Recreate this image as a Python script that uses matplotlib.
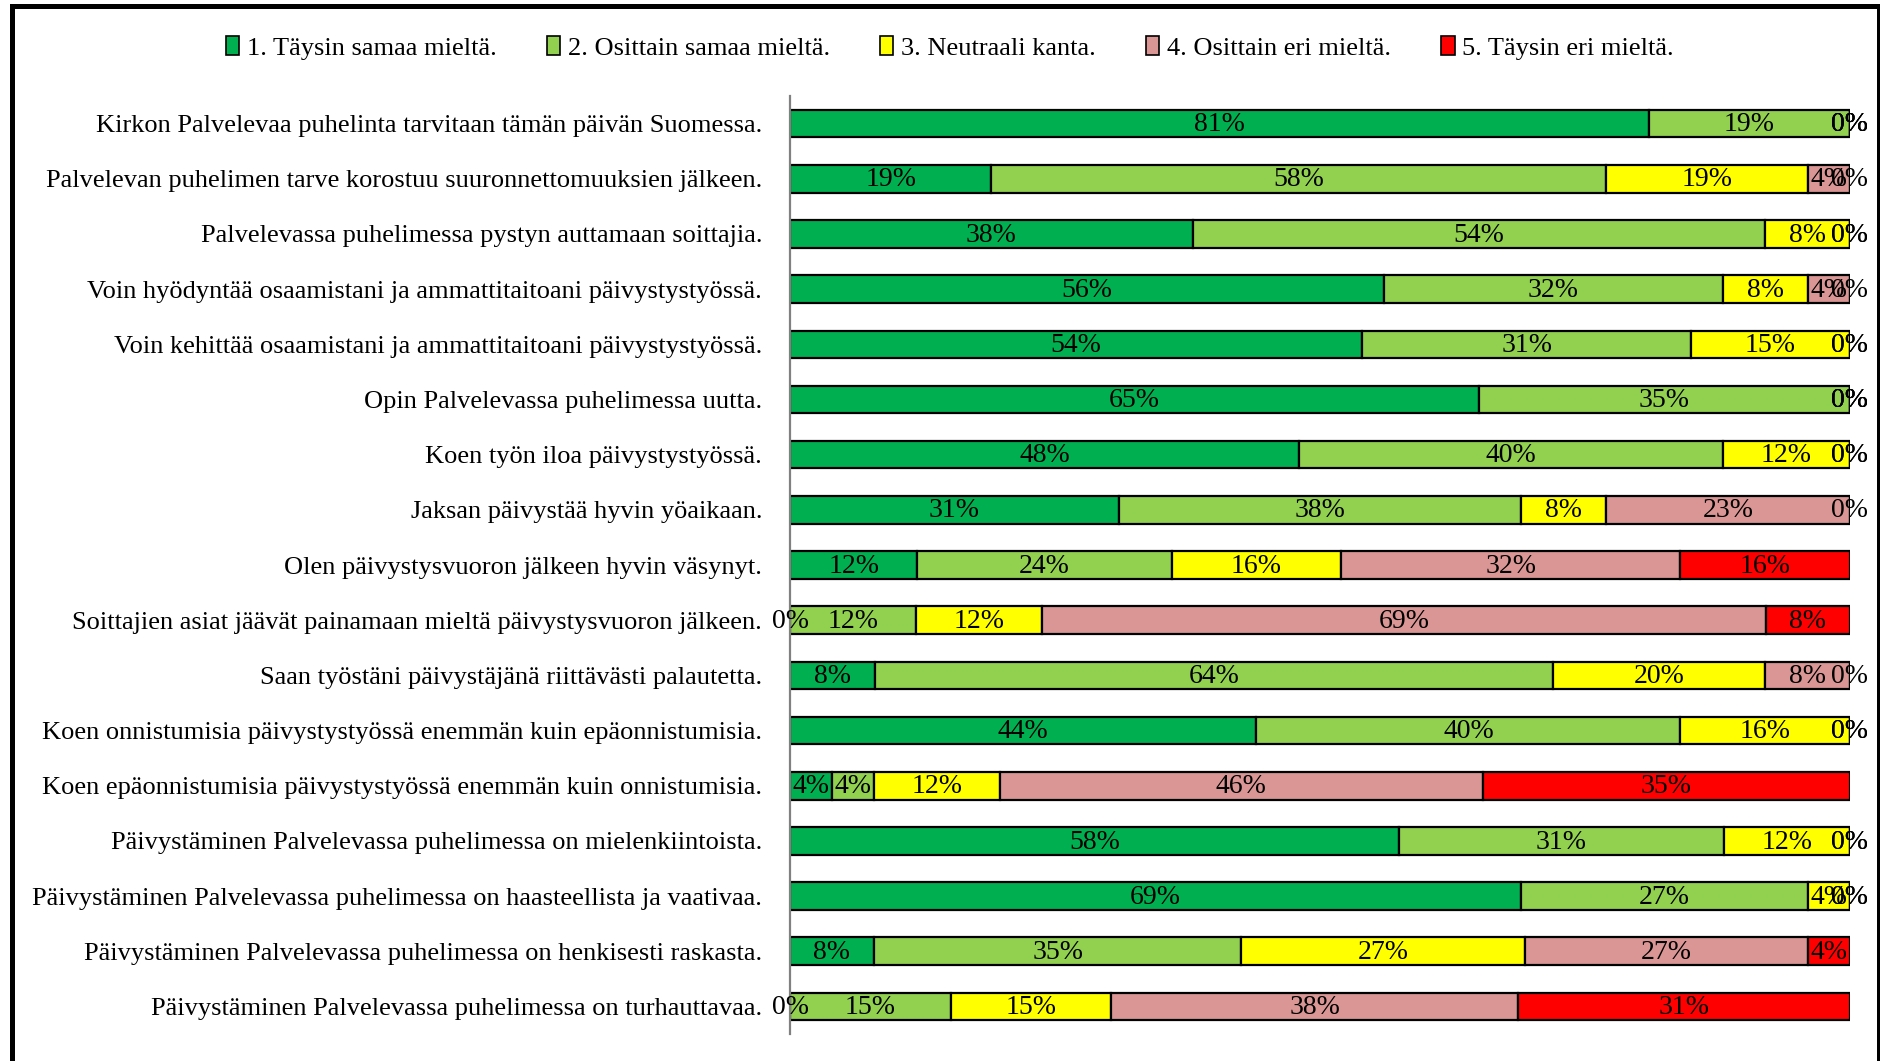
import matplotlib
matplotlib.use("Agg")
import matplotlib.pyplot as plt
from matplotlib.lines import Line2D
from matplotlib.patches import Patch
import numpy as np

categories = [
    "Kirkon Palvelevaa puhelinta tarvitaan tämän päivän Suomessa.",
    "Palvelevan puhelimen tarve korostuu suuronnettomuuksien jälkeen.",
    "Palvelevassa puhelimessa pystyn auttamaan soittajia.",
    "Voin hyödyntää osaamistani ja ammattitaitoani päivystystyössä.",
    "Voin kehittää osaamistani ja ammattitaitoani päivystystyössä.",
    "Opin Palvelevassa puhelimessa uutta.",
    "Koen työn iloa päivystystyössä.",
    "Jaksan päivystää hyvin yöaikaan.",
    "Olen päivystysvuoron jälkeen hyvin väsynyt.",
    "Soittajien asiat jäävät painamaan mieltä päivystysvuoron jälkeen.",
    "Saan työstäni päivystäjänä riittävästi palautetta.",
    "Koen onnistumisia päivystystyössä enemmän kuin epäonnistumisia.",
    "Koen epäonnistumisia päivystystyössä enemmän kuin onnistumisia.",
    "Päivystäminen Palvelevassa puhelimessa on mielenkiintoista.",
    "Päivystäminen Palvelevassa puhelimessa on haasteellista ja vaativaa.",
    "Päivystäminen Palvelevassa puhelimessa on henkisesti raskasta.",
    "Päivystäminen Palvelevassa puhelimessa on turhauttavaa.",
]

series_names = [
    "1. Täysin samaa mieltä.",
    "2. Osittain samaa mieltä.",
    "3. Neutraali kanta.",
    "4. Osittain eri mieltä.",
    "5. Täysin eri mieltä.",
]

s1 = [81, 19, 38, 56, 54, 65, 48, 31, 12, 0, 8, 44, 4, 58, 69, 8, 0]
s2 = [19, 58, 54, 32, 31, 35, 40, 38, 24, 12, 64, 40, 4, 31, 27, 35, 15]
s3 = [0, 19, 8, 8, 15, 0, 12, 8, 16, 12, 20, 16, 12, 12, 4, 27, 15]
s4 = [0, 4, 0, 4, 0, 0, 0, 23, 32, 69, 8, 0, 46, 0, 0, 27, 38]
s5 = [0, 0, 0, 0, 0, 0, 0, 0, 16, 8, 0, 0, 35, 0, 0, 4, 31]

colors = ["#00B050", "#92D050", "#FFFF00", "#D99694", "#FF0000"]

plt.rcParams["font.family"] = ["Liberation Serif", "DejaVu Serif"]

fig = plt.figure(figsize=(18.81, 10.61), dpi=100)
ax = fig.add_axes([0.42, 0.0254, 0.5635, 0.8841])

data = np.array([s1, s2, s3, s4, s5], dtype=float)
totals = data.sum(axis=0)
shares = data / totals * 100.0
y = np.arange(len(categories))
left = np.zeros(len(categories))
fs_cat = 19
fs_val = 20
for i in range(5):
    ax.barh(y, shares[i], left=left, height=0.5, color=colors[i],
            edgecolor="black", linewidth=1.6, label=series_names[i], zorder=2)
    for j in range(len(categories)):
        cx = left[j] + shares[i][j] / 2.0
        ax.text(cx, y[j] + 0.02, f"{int(data[i][j])}%", ha="center", va="center",
                fontsize=fs_val, color="black", zorder=4, clip_on=False)
    left = left + shares[i]

ax.set_xlim(0, 100)
ax.set_ylim(len(categories) - 0.5, -0.5)
ax.set_yticks(y)
ax.set_yticklabels(categories, fontsize=fs_cat)
ax.tick_params(axis="y", length=0, pad=20)
ax.set_xticks([])
for sp in ["top", "right", "bottom"]:
    ax.spines[sp].set_visible(False)
ax.spines["left"].set_color("#808080")
ax.spines["left"].set_linewidth(1.6)
ax.spines["left"].set_zorder(3)

handles = [Patch(facecolor=colors[i], edgecolor="black", linewidth=1.2) for i in range(5)]
fig.legend(handles, series_names, loc="center", bbox_to_anchor=(0.505, 0.955), ncol=5,
           frameon=False, fontsize=19, handlelength=0.5, handleheight=0.75,
           handletextpad=0.3, columnspacing=1.9)

# figure frame (left, top, right)
W, H = 1881.0, 1061.0
fig.add_artist(Line2D([12.5 / W, 12.5 / W], [0, 1 - 6 / H], transform=fig.transFigure,
                      color="black", linewidth=3.6, solid_capstyle="projecting"))
fig.add_artist(Line2D([12.5 / W, 1879 / W], [1 - 6 / H, 1 - 6 / H], transform=fig.transFigure,
                      color="black", linewidth=3.6, solid_capstyle="projecting"))
fig.add_artist(Line2D([1879 / W, 1879 / W], [0, 1 - 6 / H], transform=fig.transFigure,
                      color="black", linewidth=3.6, solid_capstyle="projecting"))

fig.savefig("out.png", dpi=100)
